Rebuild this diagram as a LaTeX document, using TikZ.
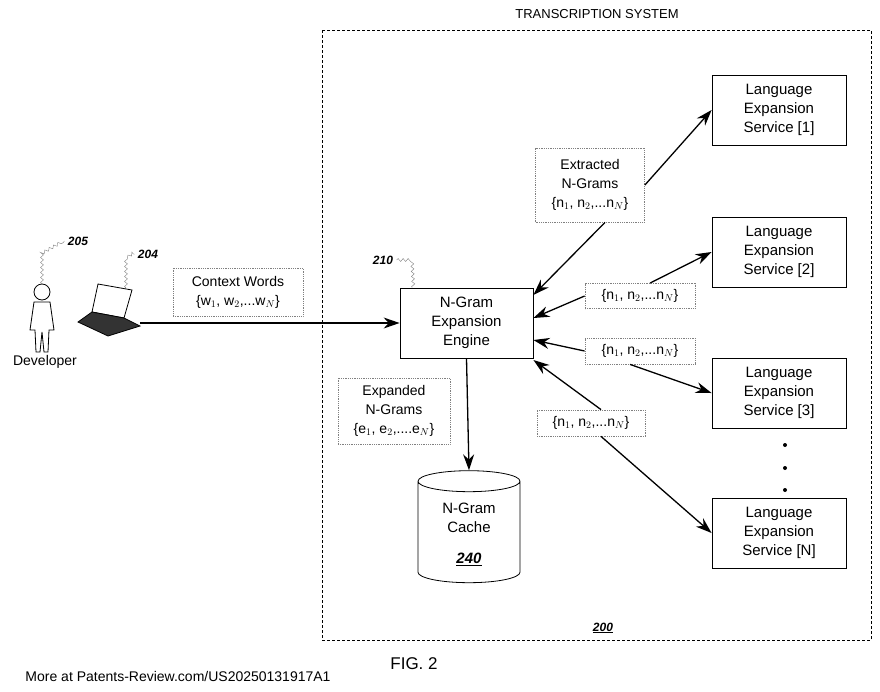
\documentclass[tikz,border=0pt]{standalone}
\usepackage{fontspec}
\setmainfont{Liberation Sans}
\usetikzlibrary{positioning,shapes.geometric,arrows.meta,decorations.pathmorphing}
\tikzset{
  box/.style={draw, thick, fill=white, align=center, font=\fontsize{15}{19}\selectfont},
  tag/.style={draw=gray, densely dotted, thick, fill=white, align=center, font=\fontsize{14}{19}\selectfont},
  les/.style={box, minimum width=134pt, minimum height=70pt},
  link/.style={line width=1.3pt, -{Stealth[length=16pt,width=11pt]}},
  ref/.style={font=\fontsize{12}{14}\selectfont\bfseries\itshape},
  squig/.style={gray, decorate, decoration={snake, amplitude=1.5pt, segment length=5pt}}
}
\begin{document}
\begin{tikzpicture}[x=1pt,y=-1pt]
\useasboundingbox (0,0) rectangle (880,691);
%% system frame
\draw[thick, densely dashed] (322,30) rectangle (871,640);
\node (title) at (597,14) {\fontsize{13}{15}\selectfont TRANSCRIPTION SYSTEM};
\node[ref] (n200) at (603,628) {\underline{200}};
%% developer and laptop
\draw[thick] (42,292) circle (8);
\draw[thick] (34,302) -- (50,302) -- (54,330) -- (49,330) -- (48,352) -- (44,352) -- (42,332)
  -- (40,352) -- (36,352) -- (35,330) -- (30,330) -- cycle;
\node (dev) at (45,362) {\fontsize{14}{16}\selectfont Developer};
\coordinate (headtop) at (42,284);
\node[ref] (n205) at (78,241) {205};
\draw[squig] (headtop) -- ++(0,-30) -- (n205.west);
\draw[thick] (98,284) -- (132,290) -- (124,318) -- (92,312) -- cycle;
\draw[thick, fill=black!80] (92,312) -- (124,318) -- (140,326) -- (108,336) -- (78,322) -- cycle;
\coordinate (lap) at (140,323);
\node[ref] (n204) at (148,254) {204};
\draw[squig] (126,288) -- ++(0,-28) -- (n204.west);
%% engine and cache
\node[box, minimum width=133pt, minimum height=70pt] (eng) at (466.5,323) {N-Gram\\Expansion\\Engine};
\node[ref] (n210) at (383,260) {210};
\draw[squig] (n210.east) -- ++(14,0) -- (412,288);
\node[tag, minimum width=130pt, minimum height=48pt] (ctx) at (238,292) {Context Words\\\{w$_1$, w$_2$,...w$_N$\}};
\draw[link] (lap) -- (eng.west);
\node[tag, minimum width=112pt, minimum height=66pt] (exp) at (394,411) {Expanded\\N-Grams\\\{e$_1$, e$_2$,....e$_N$\}};
\node[draw, thick, cylinder, shape border rotate=90, aspect=0.35, minimum width=102pt, minimum height=112pt,
  align=center, font=\fontsize{15}{19}\selectfont] (cache) at (469,534) {N-Gram\\Cache\\[12pt]{\bfseries\itshape\underline{240}}};
\draw[link] (eng.south) -- (cache.top);
%% language expansion services
\node[les] (les1) at (779,110) {Language\\Expansion\\Service [1]};
\node[les] (les2) at (779,252) {Language\\Expansion\\Service [2]};
\node[les] (les3) at (779,393) {Language\\Expansion\\Service [3]};
\node[les] (lesn) at (779,533) {Language\\Expansion\\Service [N]};
\foreach \y in {445,468,490} \fill (785,\y) circle (2);
%% n-gram labels on the links
\node[tag, minimum width=109pt, minimum height=74pt] (ext) at (590,185) {Extracted\\N-Grams\\\{n$_1$, n$_2$,...n$_N$\}};
\node[tag, minimum width=110pt, minimum height=25pt] (t2) at (640,296) {\{n$_1$, n$_2$,...n$_N$\}};
\node[tag, minimum width=110pt, minimum height=26pt] (t3) at (640,351) {\{n$_1$, n$_2$,...n$_N$\}};
\node[tag, minimum width=108pt, minimum height=26pt] (t4) at (591,423) {\{n$_1$, n$_2$,...n$_N$\}};
\draw[link] (ext.east) -- (les1.west);
\draw[link] (ext.south) ++(15,0) -- ([yshift=28pt]eng.east);
\draw[link] (t2.north) ++(10,0) -- (les2.west);
\draw[link] (t2.west) -- ([yshift=5pt]eng.east);
\draw[link] (t3.west) -- ([yshift=-17pt]eng.east);
\draw[link] (t3.south) ++(-10,0) -- (les3.west);
\draw[link] (t4.north) ++(10,0) -- ([yshift=-37pt]eng.east);
\draw[link] (t4.south) ++(10,0) -- (lesn.west);
%% caption
\node (fig) at (414,664) {\fontsize{17}{20}\selectfont FIG. 2};
\node (src) at (178,676) {\fontsize{14}{16}\selectfont More at Patents-Review.com/US20250131917A1};
\end{tikzpicture}
\end{document}
